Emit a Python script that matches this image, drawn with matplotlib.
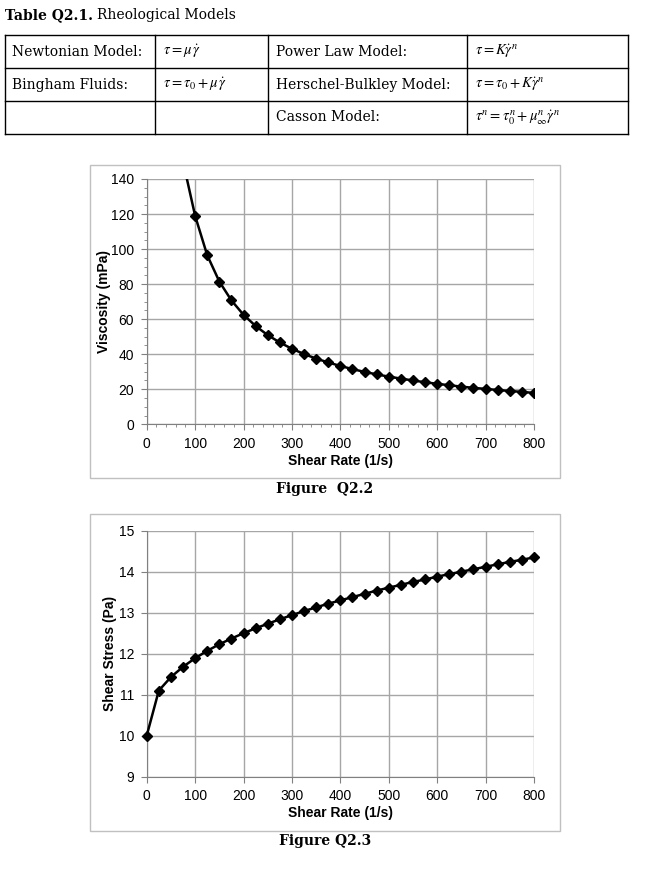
import matplotlib
matplotlib.use('Agg')
import matplotlib.pyplot as plt
from matplotlib.patches import Rectangle
from matplotlib.ticker import MultipleLocator

W, H = 655, 869

# ── Data ─────────────────────────────────────────────────────────────────────
shear_rate = [0, 25, 50, 75, 100, 125, 150, 175, 200, 225, 250, 275, 300, 325,
              350, 375, 400, 425, 450, 475, 500, 525, 550, 575, 600, 625, 650,
              675, 700, 725, 750, 775, 800]
shear_stress = [10.0, 11.1, 11.43, 11.68, 11.89, 12.07, 12.23, 12.37, 12.5,
                12.62, 12.73, 12.84, 12.94, 13.04, 13.13, 13.22, 13.30, 13.38,
                13.46, 13.54, 13.61, 13.68, 13.75, 13.81, 13.88, 13.94, 14.00,
                14.06, 14.12, 14.18, 14.24, 14.29, 14.35]
visc_rate = shear_rate[1:]
viscosity = [444, 229, 150, 119, 96.5, 81.5, 70.7, 62.5, 56.1, 50.9, 46.7,
             43.1, 40.1, 37.5, 35.3, 33.3, 31.5, 29.9, 28.5, 27.2, 26.1, 25.0,
             24.0, 23.1, 22.3, 21.5, 20.8, 20.2, 19.6, 19.0, 18.5, 17.9]

models_left = [("Newtonian Model:", r"$\tau = \mu\,\dot{\gamma}$"),
               ("Bingham Fluids:", r"$\tau = \tau_0 + \mu\,\dot{\gamma}$"),
               ("", "")]
models_right = [("Power Law Model:", r"$\tau = K\dot{\gamma}^n$"),
                ("Herschel-Bulkley Model:", r"$\tau = \tau_0 + K\dot{\gamma}^n$"),
                ("Casson Model:", r"$\tau^n = \tau_0^n + \mu_\infty^n\dot{\gamma}^n$")]

fig = plt.figure(figsize=(W / 100, H / 100), dpi=100)
fig.patch.set_facecolor('white')


def fx(px):
    return px / W


def fy(py):
    return 1 - py / H


serif = 'DejaVu Serif'

# ── Table ────────────────────────────────────────────────────────────────────
fig.text(fx(5), fy(15), "Table Q2.1.", fontfamily=serif, fontweight='bold',
         fontsize=10, va='center')
fig.text(fx(97), fy(15), "Rheological Models", fontfamily=serif,
         fontsize=10, va='center')

col_x = [5, 155, 268, 467, 628]
row_y = [35, 68, 101, 134]
for x in col_x:
    fig.add_artist(plt.Line2D([fx(x), fx(x)], [fy(row_y[0]), fy(row_y[-1])],
                              color='black', lw=1.0))
for y in row_y:
    fig.add_artist(plt.Line2D([fx(col_x[0]), fx(col_x[-1])], [fy(y), fy(y)],
                              color='black', lw=1.0))

for i in range(3):
    yc = fy((row_y[i] + row_y[i + 1]) / 2)
    name, eq = models_left[i]
    fig.text(fx(col_x[0] + 7), yc, name, fontfamily=serif, fontsize=10, va='center')
    fig.text(fx(col_x[1] + 8), yc, eq, fontsize=10.5, va='center', math_fontfamily='stix')
    name, eq = models_right[i]
    fig.text(fx(col_x[2] + 8), yc, name, fontfamily=serif, fontsize=10, va='center')
    fig.text(fx(col_x[3] + 8), yc, eq, fontsize=10.5, va='center', math_fontfamily='stix')


# ── Charts ───────────────────────────────────────────────────────────────────
def style_axes(ax):
    ax.grid(True, which='major', color='#a6a6a6', lw=1.0)
    ax.set_axisbelow(True)
    for s in ['top', 'right']:
        ax.spines[s].set_visible(False)
    for s in ['left', 'bottom']:
        ax.spines[s].set_color('#808080')
    ax.tick_params(which='both', colors='#808080', labelcolor='black',
                   labelsize=10, direction='out')
    ax.tick_params(which='major', length=4)
    ax.tick_params(which='minor', length=2.5)
    ax.tick_params(axis='y', pad=5)
    ax.tick_params(axis='x', pad=5)
    for lab in ax.get_xticklabels() + ax.get_yticklabels():
        lab.set_fontfamily('Liberation Sans')


def frame(top, bottom):
    fig.add_artist(Rectangle((fx(90), fy(bottom)), fx(560) - fx(90),
                             fy(top) - fy(bottom), transform=fig.transFigure,
                             fill=False, edgecolor='#c0c0c0', lw=1.0))


label_kw = dict(fontfamily='Liberation Sans', fontweight='bold', fontsize=10)

# Figure Q2.2
frame(165, 478)
ax1 = fig.add_axes([fx(146.7), fy(424.3), fx(534) - fx(146.7), fy(179) - fy(424.3)])
ax1.plot(visc_rate, viscosity, color='black', lw=1.8, marker='D', ms=5.5,
         clip_on=True)
ax1.set_xlim(0, 800)
ax1.set_ylim(0, 140)
ax1.xaxis.set_major_locator(MultipleLocator(100))
ax1.xaxis.set_minor_locator(MultipleLocator(20))
ax1.yaxis.set_major_locator(MultipleLocator(20))
ax1.yaxis.set_minor_locator(MultipleLocator(5))
style_axes(ax1)
ax1.set_xlabel("Shear Rate (1/s)", labelpad=2, **label_kw)
ax1.set_ylabel("Viscosity (mPa)", labelpad=0, **label_kw)
fig.text(fx(325), fy(489), "Figure  Q2.2", fontfamily=serif, fontweight='bold',
         fontsize=10, ha='center', va='center')

# Figure Q2.3
frame(514, 831)
ax2 = fig.add_axes([fx(146.7), fy(776.7), fx(534) - fx(146.7), fy(530.7) - fy(776.7)])
ax2.plot(shear_rate, shear_stress, color='black', lw=1.8, marker='D', ms=5.5,
         clip_on=False, zorder=3)
ax2.set_xlim(0, 800)
ax2.set_ylim(9, 15)
ax2.xaxis.set_major_locator(MultipleLocator(100))
ax2.yaxis.set_major_locator(MultipleLocator(1))
style_axes(ax2)
ax2.set_xlabel("Shear Rate (1/s)", labelpad=2, **label_kw)
ax2.set_ylabel("Shear Stress (Pa)", labelpad=1, **label_kw)
fig.text(fx(325), fy(841), "Figure Q2.3", fontfamily=serif, fontweight='bold',
         fontsize=10, ha='center', va='center')

fig.savefig("out.png", dpi=100)
